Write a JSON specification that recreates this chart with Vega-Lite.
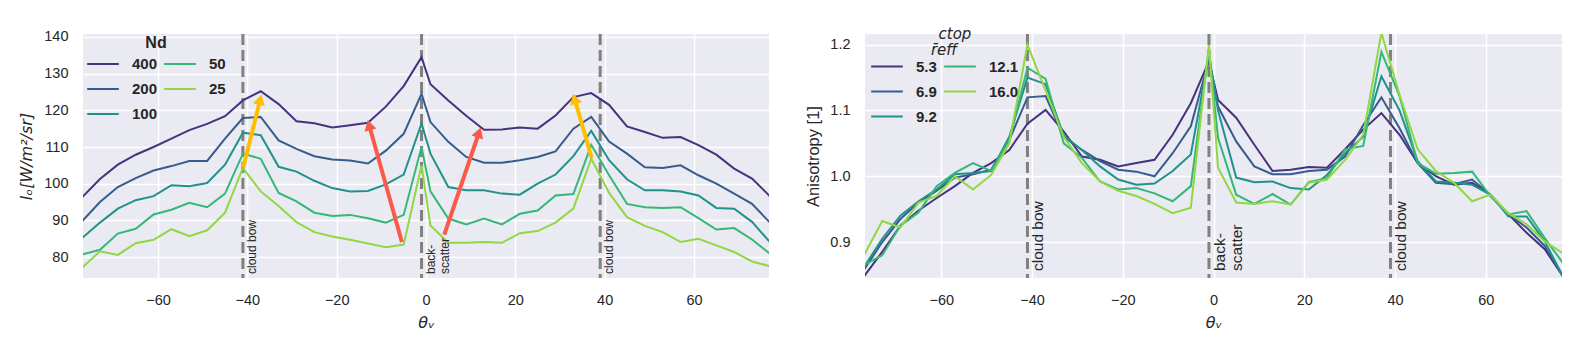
{
"$schema":"https://vega.github.io/schema/vega-lite/v6.json",
"padding":{"left":18,"top":27,"right":16,"bottom":5},
"background":"white",
"spacing":36,
"resolve":{"scale":{"color":"independent"},"legend":{"color":"independent"}},
"config":{
 "font":"Liberation Sans",
 "view":{"fill":"#eaeaf2","stroke":null},
 "axis":{"domain":false,"ticks":false,"gridColor":"white","gridWidth":1.5,"labelFont":"Liberation Sans","labelFontSize":14.5,"labelColor":"#262626","titleColor":"#262626","labelPadding":15,"titleFont":"DejaVu Sans","titleFontWeight":"normal","titleFontSize":16,"titlePadding":8},
 "legend":{"orient":"none","padding":0,"columns":2,"symbolType":"stroke","symbolSize":1000,"symbolStrokeWidth":2,"labelFont":"Liberation Sans","labelFontSize":15,"labelFontWeight":"bold","labelColor":"#262626","titleFont":"Liberation Sans","titleFontSize":16,"titleFontWeight":"bold","titleColor":"#262626","titleAnchor":"middle","rowPadding":-4.5,"columnPadding":8,"labelOffset":12}
},
"hconcat":[
{
 "width":686,"height":244,
 "data":{"values":[
{"t":-77,"g":"400","v":96.3},{"t":-73,"g":"400","v":101.3},{"t":-69,"g":"400","v":105.2},{"t":-65,"g":"400","v":107.9},{"t":-61,"g":"400","v":110.0},{"t":-57,"g":"400","v":112.3},{"t":-53,"g":"400","v":114.6},{"t":-49,"g":"400","v":116.3},{"t":-45,"g":"400","v":118.4},{"t":-41,"g":"400","v":122.7},{"t":-37,"g":"400","v":125.2},{"t":-33,"g":"400","v":121.7},{"t":-29,"g":"400","v":117.0},{"t":-25,"g":"400","v":116.5},{"t":-21,"g":"400","v":115.3},{"t":-17,"g":"400","v":115.9},{"t":-13,"g":"400","v":116.6},{"t":-9,"g":"400","v":121.0},{"t":-5,"g":"400","v":126.6},{"t":-1,"g":"400","v":134.5},{"t":1,"g":"400","v":127.1},{"t":5,"g":"400","v":122.7},{"t":9,"g":"400","v":118.5},{"t":13,"g":"400","v":114.7},{"t":17,"g":"400","v":114.8},{"t":21,"g":"400","v":115.3},{"t":25,"g":"400","v":115.0},{"t":29,"g":"400","v":118.6},{"t":33,"g":"400","v":123.6},{"t":37,"g":"400","v":124.7},{"t":41,"g":"400","v":121.5},{"t":45,"g":"400","v":115.6},{"t":49,"g":"400","v":114.1},{"t":53,"g":"400","v":112.5},{"t":57,"g":"400","v":112.7},{"t":61,"g":"400","v":110.5},{"t":65,"g":"400","v":107.9},{"t":69,"g":"400","v":104.1},{"t":73,"g":"400","v":101.4},{"t":77,"g":"400","v":96.6},
{"t":-77,"g":"200","v":89.8},{"t":-73,"g":"200","v":95.0},{"t":-69,"g":"200","v":99.1},{"t":-65,"g":"200","v":101.5},{"t":-61,"g":"200","v":103.6},{"t":-57,"g":"200","v":104.8},{"t":-53,"g":"200","v":106.2},{"t":-49,"g":"200","v":106.2},{"t":-45,"g":"200","v":112.3},{"t":-41,"g":"200","v":117.9},{"t":-37,"g":"200","v":118.2},{"t":-33,"g":"200","v":111.8},{"t":-29,"g":"200","v":109.5},{"t":-25,"g":"200","v":107.5},{"t":-21,"g":"200","v":106.6},{"t":-17,"g":"200","v":106.3},{"t":-13,"g":"200","v":105.5},{"t":-9,"g":"200","v":109.0},{"t":-5,"g":"200","v":113.6},{"t":-1,"g":"200","v":124.5},{"t":1,"g":"200","v":116.8},{"t":5,"g":"200","v":111.4},{"t":9,"g":"200","v":107.3},{"t":13,"g":"200","v":105.7},{"t":17,"g":"200","v":105.7},{"t":21,"g":"200","v":106.4},{"t":25,"g":"200","v":107.3},{"t":29,"g":"200","v":108.8},{"t":33,"g":"200","v":115.0},{"t":37,"g":"200","v":118.2},{"t":41,"g":"200","v":111.5},{"t":45,"g":"200","v":108.2},{"t":49,"g":"200","v":104.5},{"t":53,"g":"200","v":104.3},{"t":57,"g":"200","v":105.0},{"t":61,"g":"200","v":102.3},{"t":65,"g":"200","v":100.0},{"t":69,"g":"200","v":97.3},{"t":73,"g":"200","v":94.5},{"t":77,"g":"200","v":89.4},
{"t":-77,"g":"100","v":85.2},{"t":-73,"g":"100","v":89.4},{"t":-69,"g":"100","v":93.2},{"t":-65,"g":"100","v":95.5},{"t":-61,"g":"100","v":96.6},{"t":-57,"g":"100","v":99.6},{"t":-53,"g":"100","v":99.3},{"t":-49,"g":"100","v":100.2},{"t":-45,"g":"100","v":105.2},{"t":-41,"g":"100","v":113.9},{"t":-37,"g":"100","v":113.2},{"t":-33,"g":"100","v":104.6},{"t":-29,"g":"100","v":103.3},{"t":-25,"g":"100","v":100.8},{"t":-21,"g":"100","v":98.8},{"t":-17,"g":"100","v":97.9},{"t":-13,"g":"100","v":98.0},{"t":-9,"g":"100","v":99.8},{"t":-5,"g":"100","v":102.5},{"t":-1,"g":"100","v":116.4},{"t":1,"g":"100","v":108.2},{"t":5,"g":"100","v":99.1},{"t":9,"g":"100","v":98.2},{"t":13,"g":"100","v":98.2},{"t":17,"g":"100","v":97.3},{"t":21,"g":"100","v":97.0},{"t":25,"g":"100","v":100.0},{"t":29,"g":"100","v":102.5},{"t":33,"g":"100","v":107.5},{"t":37,"g":"100","v":114.4},{"t":41,"g":"100","v":106.4},{"t":45,"g":"100","v":101.2},{"t":49,"g":"100","v":98.2},{"t":53,"g":"100","v":98.2},{"t":57,"g":"100","v":97.9},{"t":61,"g":"100","v":96.8},{"t":65,"g":"100","v":93.4},{"t":69,"g":"100","v":93.2},{"t":73,"g":"100","v":89.6},{"t":77,"g":"100","v":84.1},
{"t":-77,"g":"50","v":80.7},{"t":-73,"g":"50","v":82.0},{"t":-69,"g":"50","v":86.4},{"t":-65,"g":"50","v":87.7},{"t":-61,"g":"50","v":91.6},{"t":-57,"g":"50","v":92.9},{"t":-53,"g":"50","v":94.8},{"t":-49,"g":"50","v":93.6},{"t":-45,"g":"50","v":97.3},{"t":-41,"g":"50","v":108.2},{"t":-37,"g":"50","v":106.8},{"t":-33,"g":"50","v":97.5},{"t":-29,"g":"50","v":95.2},{"t":-25,"g":"50","v":92.1},{"t":-21,"g":"50","v":91.2},{"t":-17,"g":"50","v":91.5},{"t":-13,"g":"50","v":90.6},{"t":-9,"g":"50","v":89.4},{"t":-5,"g":"50","v":91.5},{"t":-1,"g":"50","v":110.0},{"t":1,"g":"50","v":97.9},{"t":5,"g":"50","v":90.5},{"t":9,"g":"50","v":88.9},{"t":13,"g":"50","v":90.5},{"t":17,"g":"50","v":88.9},{"t":21,"g":"50","v":91.8},{"t":25,"g":"50","v":92.7},{"t":29,"g":"50","v":96.8},{"t":33,"g":"50","v":97.2},{"t":37,"g":"50","v":110.6},{"t":41,"g":"50","v":102.3},{"t":45,"g":"50","v":94.5},{"t":49,"g":"50","v":93.6},{"t":53,"g":"50","v":93.4},{"t":57,"g":"50","v":93.6},{"t":61,"g":"50","v":90.6},{"t":65,"g":"50","v":87.5},{"t":69,"g":"50","v":87.9},{"t":73,"g":"50","v":84.8},{"t":77,"g":"50","v":80.9},
{"t":-77,"g":"25","v":77.1},{"t":-73,"g":"25","v":81.6},{"t":-69,"g":"25","v":80.6},{"t":-65,"g":"25","v":83.8},{"t":-61,"g":"25","v":84.7},{"t":-57,"g":"25","v":87.6},{"t":-53,"g":"25","v":85.7},{"t":-49,"g":"25","v":87.3},{"t":-45,"g":"25","v":92.1},{"t":-41,"g":"25","v":104.3},{"t":-37,"g":"25","v":97.9},{"t":-33,"g":"25","v":93.9},{"t":-29,"g":"25","v":89.5},{"t":-25,"g":"25","v":86.8},{"t":-21,"g":"25","v":85.6},{"t":-17,"g":"25","v":84.7},{"t":-13,"g":"25","v":83.7},{"t":-9,"g":"25","v":82.7},{"t":-5,"g":"25","v":83.4},{"t":-1,"g":"25","v":105.0},{"t":1,"g":"25","v":88.6},{"t":5,"g":"25","v":83.9},{"t":9,"g":"25","v":83.9},{"t":13,"g":"25","v":84.1},{"t":17,"g":"25","v":83.9},{"t":21,"g":"25","v":86.5},{"t":25,"g":"25","v":87.1},{"t":29,"g":"25","v":89.4},{"t":33,"g":"25","v":93.2},{"t":37,"g":"25","v":106.8},{"t":41,"g":"25","v":97.5},{"t":45,"g":"25","v":90.9},{"t":49,"g":"25","v":88.5},{"t":53,"g":"25","v":86.8},{"t":57,"g":"25","v":84.1},{"t":61,"g":"25","v":85.0},{"t":65,"g":"25","v":83.2},{"t":69,"g":"25","v":81.4},{"t":73,"g":"25","v":78.8},{"t":77,"g":"25","v":77.5}
 ]},
 "layer":[
  {"data":{"values":[{"t":-41},{"t":-1},{"t":39}]},
   "mark":{"type":"rule","color":"#808080","strokeWidth":3,"strokeDash":[11,5]},
   "encoding":{"x":{"field":"t","type":"quantitative","scale":{"domain":[-76.8,76.8],"nice":false,"zero":false},"axis":{"values":[-60,-40,-20,0,20,40,60],"title":"θᵥ","titleFontStyle":"italic"}}}},
  {"mark":{"type":"line","strokeWidth":2,"clip":true},
   "encoding":{
    "x":{"field":"t","type":"quantitative","scale":{"domain":[-76.8,76.8],"nice":false,"zero":false},"axis":{"values":[-60,-40,-20,0,20,40,60],"title":"θᵥ","titleFontStyle":"italic"}},
    "y":{"field":"v","type":"quantitative","scale":{"domain":[74.3,140.8],"nice":false,"zero":false},"axis":{"values":[80,90,100,110,120,130,140],"title":"Iₒ[W/m²/sr]","titleFontStyle":"italic","titlePadding":9}},
    "color":{"field":"g","type":"nominal","scale":{"domain":["400","200","100","50","25"],"range":["#46327e","#365c8d","#21918c","#35b779","#90d743"]},"legend":{"title":"Nd","legendX":3,"legendY":1,"titlePadding":-4,"columnPadding":2}}
   }},
  {"data":{"values":[{"t":-41,"label":"cloud bow"},{"t":-1,"label":"back-\nscatter"},{"t":39,"label":"cloud bow"}]},
   "mark":{"type":"text","angle":270,"align":"left","baseline":"top","dx":4,"dy":4,"fontSize":12,"color":"#262626","lineBreak":"\n","lineHeight":14},
   "encoding":{"x":{"field":"t","type":"quantitative"},"y":{"datum":74.3},"text":{"field":"label"}}},
  {"data":{"values":[{"t":-40.9,"v":104.5,"t2":-37.13,"v2":122.9,"kind":"bow"},{"t":-5.4,"v":84.1,"t2":-12.74,"v2":116.0,"kind":"back"},{"t":4.1,"v":86.1,"t2":11.87,"v2":113.95,"kind":"back"},{"t":37.1,"v":107.0,"t2":33.27,"v2":123.13,"kind":"bow"}]},
   "mark":{"type":"rule","strokeWidth":4},
   "encoding":{"x":{"field":"t","type":"quantitative"},"y":{"field":"v","type":"quantitative"},"x2":{"field":"t2"},"y2":{"field":"v2"},
    "stroke":{"field":"kind","type":"nominal","scale":{"domain":["bow","back"],"range":["#ffbf00","#fa5a4b"]},"legend":null}}},
  {"data":{"values":[{"t":-37.13,"v":122.9,"ang":14,"kind":"bow"},{"t":-12.74,"v":116.0,"ang":-15.6,"kind":"back"},{"t":11.87,"v":113.95,"ang":18.8,"kind":"back"},{"t":33.27,"v":123.13,"ang":-16.1,"kind":"bow"}]},
   "mark":{"type":"point","shape":"triangle-up","filled":true,"size":150,"opacity":1},
   "encoding":{"x":{"field":"t","type":"quantitative"},"y":{"field":"v","type":"quantitative"},"angle":{"field":"ang","type":"quantitative","scale":null},
    "fill":{"field":"kind","type":"nominal","scale":{"domain":["bow","back"],"range":["#ffbf00","#fa5a4b"]},"legend":null}}}
 ]
},
{
 "width":697,"height":244,
 "data":{"values":[
{"t":-77,"g":"5.3","v":0.848},{"t":-73,"g":"5.3","v":0.885},{"t":-69,"g":"5.3","v":0.925},{"t":-65,"g":"5.3","v":0.948},{"t":-61,"g":"5.3","v":0.967},{"t":-57,"g":"5.3","v":0.985},{"t":-53,"g":"5.3","v":1.005},{"t":-49,"g":"5.3","v":1.020},{"t":-45,"g":"5.3","v":1.040},{"t":-41,"g":"5.3","v":1.080},{"t":-37,"g":"5.3","v":1.101},{"t":-33,"g":"5.3","v":1.068},{"t":-29,"g":"5.3","v":1.030},{"t":-25,"g":"5.3","v":1.025},{"t":-21,"g":"5.3","v":1.015},{"t":-17,"g":"5.3","v":1.020},{"t":-13,"g":"5.3","v":1.025},{"t":-9,"g":"5.3","v":1.063},{"t":-5,"g":"5.3","v":1.111},{"t":-1,"g":"5.3","v":1.175},{"t":1,"g":"5.3","v":1.116},{"t":5,"g":"5.3","v":1.089},{"t":9,"g":"5.3","v":1.048},{"t":13,"g":"5.3","v":1.008},{"t":17,"g":"5.3","v":1.010},{"t":21,"g":"5.3","v":1.014},{"t":25,"g":"5.3","v":1.013},{"t":29,"g":"5.3","v":1.041},{"t":33,"g":"5.3","v":1.071},{"t":37,"g":"5.3","v":1.096},{"t":41,"g":"5.3","v":1.063},{"t":45,"g":"5.3","v":1.020},{"t":49,"g":"5.3","v":1.000},{"t":53,"g":"5.3","v":0.987},{"t":57,"g":"5.3","v":0.990},{"t":61,"g":"5.3","v":0.972},{"t":65,"g":"5.3","v":0.942},{"t":69,"g":"5.3","v":0.914},{"t":73,"g":"5.3","v":0.889},{"t":77,"g":"5.3","v":0.848},
{"t":-77,"g":"6.9","v":0.858},{"t":-73,"g":"6.9","v":0.900},{"t":-69,"g":"6.9","v":0.935},{"t":-65,"g":"6.9","v":0.960},{"t":-61,"g":"6.9","v":0.978},{"t":-57,"g":"6.9","v":0.998},{"t":-53,"g":"6.9","v":1.003},{"t":-49,"g":"6.9","v":1.010},{"t":-45,"g":"6.9","v":1.055},{"t":-41,"g":"6.9","v":1.120},{"t":-37,"g":"6.9","v":1.122},{"t":-33,"g":"6.9","v":1.060},{"t":-29,"g":"6.9","v":1.040},{"t":-25,"g":"6.9","v":1.023},{"t":-21,"g":"6.9","v":1.010},{"t":-17,"g":"6.9","v":1.007},{"t":-13,"g":"6.9","v":1.000},{"t":-9,"g":"6.9","v":1.035},{"t":-5,"g":"6.9","v":1.076},{"t":-1,"g":"6.9","v":1.177},{"t":1,"g":"6.9","v":1.106},{"t":5,"g":"6.9","v":1.053},{"t":9,"g":"6.9","v":1.015},{"t":13,"g":"6.9","v":1.003},{"t":17,"g":"6.9","v":1.003},{"t":21,"g":"6.9","v":1.008},{"t":25,"g":"6.9","v":1.010},{"t":29,"g":"6.9","v":1.030},{"t":33,"g":"6.9","v":1.078},{"t":37,"g":"6.9","v":1.120},{"t":41,"g":"6.9","v":1.073},{"t":45,"g":"6.9","v":1.020},{"t":49,"g":"6.9","v":0.990},{"t":53,"g":"6.9","v":0.988},{"t":57,"g":"6.9","v":0.995},{"t":61,"g":"6.9","v":0.972},{"t":65,"g":"6.9","v":0.942},{"t":69,"g":"6.9","v":0.922},{"t":73,"g":"6.9","v":0.894},{"t":77,"g":"6.9","v":0.848},
{"t":-77,"g":"9.2","v":0.862},{"t":-73,"g":"9.2","v":0.905},{"t":-69,"g":"9.2","v":0.940},{"t":-65,"g":"9.2","v":0.962},{"t":-61,"g":"9.2","v":0.980},{"t":-57,"g":"9.2","v":1.003},{"t":-53,"g":"9.2","v":1.005},{"t":-49,"g":"9.2","v":1.008},{"t":-45,"g":"9.2","v":1.060},{"t":-41,"g":"9.2","v":1.150},{"t":-37,"g":"9.2","v":1.140},{"t":-33,"g":"9.2","v":1.062},{"t":-29,"g":"9.2","v":1.040},{"t":-25,"g":"9.2","v":1.015},{"t":-21,"g":"9.2","v":0.995},{"t":-17,"g":"9.2","v":0.987},{"t":-13,"g":"9.2","v":0.989},{"t":-9,"g":"9.2","v":1.008},{"t":-5,"g":"9.2","v":1.033},{"t":-1,"g":"9.2","v":1.185},{"t":1,"g":"9.2","v":1.100},{"t":5,"g":"9.2","v":0.998},{"t":9,"g":"9.2","v":0.991},{"t":13,"g":"9.2","v":0.992},{"t":17,"g":"9.2","v":0.982},{"t":21,"g":"9.2","v":0.980},{"t":25,"g":"9.2","v":1.002},{"t":29,"g":"9.2","v":1.035},{"t":33,"g":"9.2","v":1.060},{"t":37,"g":"9.2","v":1.152},{"t":41,"g":"9.2","v":1.100},{"t":45,"g":"9.2","v":1.023},{"t":49,"g":"9.2","v":0.992},{"t":53,"g":"9.2","v":0.990},{"t":57,"g":"9.2","v":0.987},{"t":61,"g":"9.2","v":0.972},{"t":65,"g":"9.2","v":0.939},{"t":69,"g":"9.2","v":0.939},{"t":73,"g":"9.2","v":0.901},{"t":77,"g":"9.2","v":0.848},
{"t":-77,"g":"12.1","v":0.865},{"t":-73,"g":"12.1","v":0.880},{"t":-69,"g":"12.1","v":0.925},{"t":-65,"g":"12.1","v":0.945},{"t":-61,"g":"12.1","v":0.985},{"t":-57,"g":"12.1","v":1.005},{"t":-53,"g":"12.1","v":1.020},{"t":-49,"g":"12.1","v":1.008},{"t":-45,"g":"12.1","v":1.055},{"t":-41,"g":"12.1","v":1.165},{"t":-37,"g":"12.1","v":1.148},{"t":-33,"g":"12.1","v":1.050},{"t":-29,"g":"12.1","v":1.028},{"t":-25,"g":"12.1","v":0.992},{"t":-21,"g":"12.1","v":0.980},{"t":-17,"g":"12.1","v":0.982},{"t":-13,"g":"12.1","v":0.974},{"t":-9,"g":"12.1","v":0.962},{"t":-5,"g":"12.1","v":0.985},{"t":-1,"g":"12.1","v":1.192},{"t":1,"g":"12.1","v":1.058},{"t":5,"g":"12.1","v":0.972},{"t":9,"g":"12.1","v":0.958},{"t":13,"g":"12.1","v":0.973},{"t":17,"g":"12.1","v":0.957},{"t":21,"g":"12.1","v":0.991},{"t":25,"g":"12.1","v":0.997},{"t":29,"g":"12.1","v":1.041},{"t":33,"g":"12.1","v":1.046},{"t":37,"g":"12.1","v":1.189},{"t":41,"g":"12.1","v":1.122},{"t":45,"g":"12.1","v":1.020},{"t":49,"g":"12.1","v":1.004},{"t":53,"g":"12.1","v":1.005},{"t":57,"g":"12.1","v":1.007},{"t":61,"g":"12.1","v":0.970},{"t":65,"g":"12.1","v":0.942},{"t":69,"g":"12.1","v":0.947},{"t":73,"g":"12.1","v":0.906},{"t":77,"g":"12.1","v":0.868},
{"t":-77,"g":"16.0","v":0.880},{"t":-73,"g":"16.0","v":0.932},{"t":-69,"g":"16.0","v":0.922},{"t":-65,"g":"16.0","v":0.960},{"t":-61,"g":"16.0","v":0.970},{"t":-57,"g":"16.0","v":1.000},{"t":-53,"g":"16.0","v":0.980},{"t":-49,"g":"16.0","v":1.002},{"t":-45,"g":"16.0","v":1.050},{"t":-41,"g":"16.0","v":1.200},{"t":-37,"g":"16.0","v":1.130},{"t":-33,"g":"16.0","v":1.060},{"t":-29,"g":"16.0","v":1.020},{"t":-25,"g":"16.0","v":0.992},{"t":-21,"g":"16.0","v":0.978},{"t":-17,"g":"16.0","v":0.970},{"t":-13,"g":"16.0","v":0.958},{"t":-9,"g":"16.0","v":0.944},{"t":-5,"g":"16.0","v":0.952},{"t":-1,"g":"16.0","v":1.200},{"t":1,"g":"16.0","v":1.013},{"t":5,"g":"16.0","v":0.960},{"t":9,"g":"16.0","v":0.958},{"t":13,"g":"16.0","v":0.962},{"t":17,"g":"16.0","v":0.957},{"t":21,"g":"16.0","v":0.990},{"t":25,"g":"16.0","v":0.995},{"t":29,"g":"16.0","v":1.025},{"t":33,"g":"16.0","v":1.063},{"t":37,"g":"16.0","v":1.218},{"t":41,"g":"16.0","v":1.124},{"t":45,"g":"16.0","v":1.041},{"t":49,"g":"16.0","v":1.008},{"t":53,"g":"16.0","v":0.990},{"t":57,"g":"16.0","v":0.962},{"t":61,"g":"16.0","v":0.972},{"t":65,"g":"16.0","v":0.944},{"t":69,"g":"16.0","v":0.927},{"t":73,"g":"16.0","v":0.901},{"t":77,"g":"16.0","v":0.883}
 ]},
 "layer":[
  {"data":{"values":[{"t":-41},{"t":-1},{"t":39}]},
   "mark":{"type":"rule","color":"#808080","strokeWidth":3,"strokeDash":[11,5]},
   "encoding":{"x":{"field":"t","type":"quantitative","scale":{"domain":[-76.8,76.8],"nice":false,"zero":false},"axis":{"values":[-60,-40,-20,0,20,40,60],"title":"θᵥ","titleFontStyle":"italic"}}}},
  {"mark":{"type":"line","strokeWidth":2,"clip":true},
   "encoding":{
    "x":{"field":"t","type":"quantitative","scale":{"domain":[-76.8,76.8],"nice":false,"zero":false},"axis":{"values":[-60,-40,-20,0,20,40,60],"title":"θᵥ","titleFontStyle":"italic"}},
    "y":{"field":"v","type":"quantitative","scale":{"domain":[0.8453,1.2163],"nice":false,"zero":false},"axis":{"values":[0.9,1.0,1.1,1.2],"format":".1f","title":"Anisotropy [1]","titleFont":"Liberation Sans","titleFontSize":16.5,"titlePadding":8}},
    "color":{"field":"g","type":"nominal","scale":{"domain":["5.3","6.9","9.2","12.1","16.0"],"range":["#46327e","#365c8d","#21918c","#35b779","#90d743"]},"legend":{"title":["\u2800\u2800ctop","r\u0304eff"],"titleFont":"DejaVu Sans","titleFontStyle":"italic","titleFontWeight":"normal","titleFontSize":15,"titleLineHeight":16,"legendX":5,"legendY":-7,"titlePadding":-8.5,"columnPadding":3}}
   }},
  {"data":{"values":[{"t":-41,"label":"cloud bow"},{"t":-1,"label":"back-\nscatter"},{"t":39,"label":"cloud bow"}]},
   "mark":{"type":"text","angle":270,"align":"left","baseline":"top","dx":7,"dy":4,"fontSize":15.5,"color":"#262626","lineBreak":"\n","lineHeight":17},
   "encoding":{"x":{"field":"t","type":"quantitative"},"y":{"datum":0.8453},"text":{"field":"label"}}}
 ]
}
]
}
